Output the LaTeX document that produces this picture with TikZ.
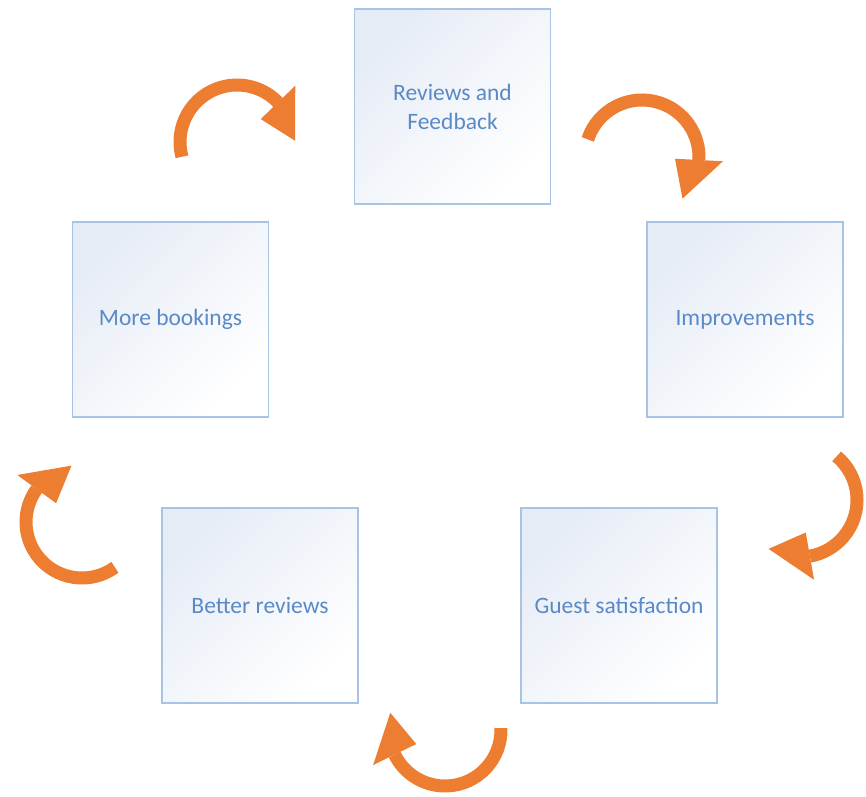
\documentclass[tikz,border=0pt]{standalone}
\usepackage{fontspec}
\setmainfont{Carlito}
\usetikzlibrary{calc}
\definecolor{boxline}{HTML}{A7C4E6}
\definecolor{boxtint}{HTML}{E6ECF6}
\definecolor{boxtext}{HTML}{5A8AC6}
\definecolor{turnorange}{HTML}{ED7D31}
\tikzset{
  stagebox/.style={rectangle, draw=boxline, line width=1.6pt,
    top color=boxtint, bottom color=white, shading angle=45,
    minimum width=196pt, minimum height=195pt, align=center,
    text=boxtext, font=\fontsize{23.5}{29}\selectfont},
  turnline/.style={draw=turnorange, line width=13pt},
  turnhead/.style={fill=turnorange},
}
% curved cycle arrow: centre x, centre y, radius, start angle, end angle
\newcommand\cyclearrow[5]{%
  \draw[turnline] ($(#1,#2)+(#4:#3)$) arc[start angle=#4, end angle=#5, radius=#3];
  \fill[turnhead] ($(#1,#2)+(#5:#3-24)$) -- ($(#1,#2)+(#5:#3+24)$)
    -- ($(#1,#2)+(#5:#3)+(#5+110:42)$) -- cycle;
}
\begin{document}
\begin{tikzpicture}[x=1pt, y=1pt, yscale=-1]
  \useasboundingbox (0,0) rectangle (866,796);
  \node[stagebox] (feedback) at (452.5,106.5) {Reviews and\\Feedback};
  \node[stagebox] (improve)  at (745,319.5)   {Improvements};
  \node[stagebox] (guest)    at (619,605.5)   {Guest satisfaction};
  \node[stagebox] (better)   at (260,605.5)   {Better reviews};
  \node[stagebox] (bookings) at (170.5,319.5) {More bookings};

  \cyclearrow{237}{142}{57}{165}{316}
  \cyclearrow{642}{157}{57}{198}{363}
  \cyclearrow{800}{500}{57}{-50}{80}
  \cyclearrow{445}{730}{56}{-2}{154}
  \cyclearrow{82}{522}{56}{54}{216}
\end{tikzpicture}
\end{document}
